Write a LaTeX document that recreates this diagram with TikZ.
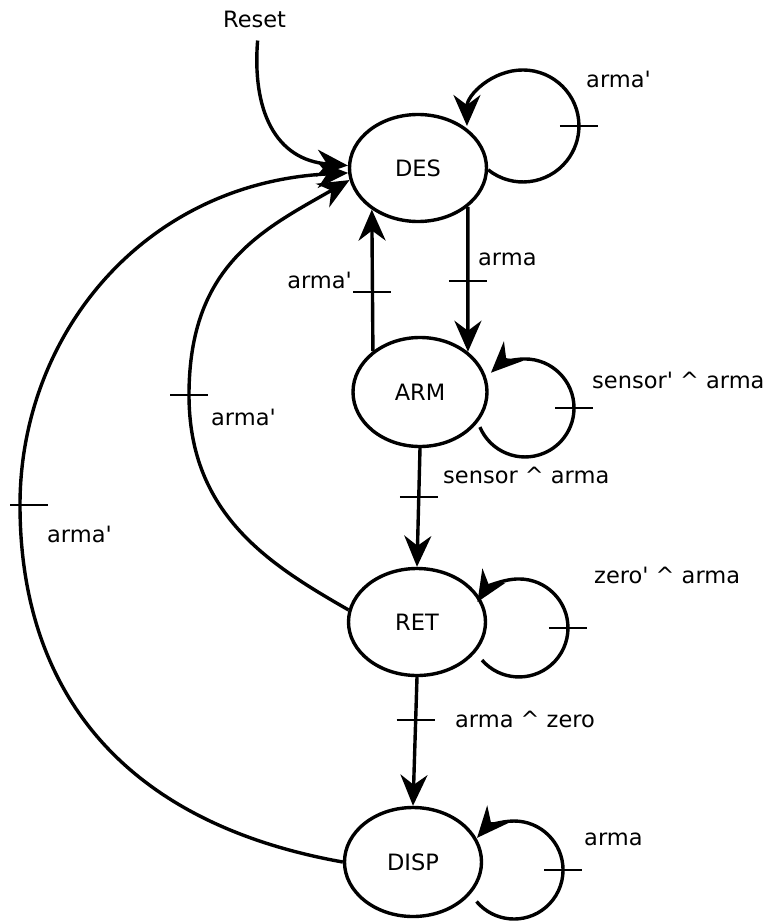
\documentclass[tikz,border=0pt]{standalone}
\usepackage{fontspec}
\setmainfont{DejaVu Sans}
\usetikzlibrary{arrows.meta,calc,shapes.geometric}
\begin{document}
\begin{tikzpicture}[x=1pt,y=1pt,
  font=\fontsize{22.5}{27}\selectfont,
  state/.style={draw, ellipse, line width=3.4pt, minimum width=137pt,
                minimum height=107pt, inner sep=0pt},
  edge/.style={line width=3.4pt, -{Stealth[length=31pt,width=27pt,inset=10pt]}},
  tickln/.style={line width=2.2pt},
  lbl/.style={inner sep=0pt, anchor=base west},
  lblr/.style={inner sep=0pt, anchor=base east},
]
\useasboundingbox (0,0) rectangle (776,-923);

% states
\node[state] (DES)  at (418,-168) {DES};
\node[state, minimum width=134pt, minimum height=109pt] (ARM) at (420,-392) {ARM};
\node[state] (RET)  at (417,-622) {RET};
\node[state, minimum height=109pt] (DISP) at (413,-862) {DISP};

% initial transition
\node[lbl] (reset) at (223,-28) {Reset};
\draw[edge] ([xshift=3pt,yshift=-12pt]reset.south)
  .. controls (252,-110) and (275,-160) .. (DES.178);

% forward chain
\draw[edge] (DES.-38.5) -- coordinate[pos=.51] (t1) (ARM.40);
\draw[edge] (ARM.139) -- coordinate[pos=.42] (t2) (DES.-138);
\draw[edge] (ARM.south) -- coordinate[pos=.41] (t3) (RET.north);
\draw[edge] (RET.south) -- coordinate[pos=.33] (t4) (DISP.north);

% returns to DES
\draw[edge] (RET.170) .. controls +(-78,44.8) and (189,-515) .. (189,-395)
  coordinate (t5)
  .. controls (189,-265) and (262.9,-229.6) .. (DES.190);
\draw[edge] (DISP.west) .. controls +(-226.3,40.3) and (20,-685) .. (20,-505)
  coordinate (t6)
  .. controls (20,-335) and (143.4,-183.1) .. (DES.184);

% self loops
\draw[edge] ([shift={(70.1,-1.8)}]DES.center)
  arc[start angle=-128.5,end angle=0,radius=56] coordinate (t7)
  arc[start angle=0,end angle=180,radius=56];
\draw[edge] ([shift={(59.9,-35.1)}]ARM.center)
  arc[start angle=-157,end angle=0,radius=49] coordinate (t8)
  arc[start angle=0,end angle=134,radius=49];
\draw[edge] ([shift={(65,-38.1)}]RET.center)
  arc[start angle=-139,end angle=0,radius=49] coordinate (t9)
  arc[start angle=0,end angle=148,radius=49];
\draw[edge] ([shift={(63.5,-39.5)}]DISP.center)
  arc[start angle=-140,end angle=0,radius=49] coordinate (t10)
  arc[start angle=0,end angle=139,radius=49];

% transition marks
\foreach \t in {t1,t2,t3,t4,t5,t7,t8,t9,t10}
  \draw[tickln] ([xshift=-19pt]\t) -- ([xshift=19pt]\t);
\draw[tickln] ([xshift=-10pt]t6) -- ([xshift=28pt]t6);

% transition labels
\node[lbl]  (l1)  at (478,-265) {arma};
\node[lblr] (l2)  at (352,-288) {arma\textquotesingle};
\node[lbl]  (l3)  at (443,-483) {sensor \textasciicircum{} arma};
\node[lbl]  (l4)  at (455,-727) {arma \textasciicircum{} zero};
\node[lbl]  (l5)  at (211,-425) {arma\textquotesingle};
\node[lbl]  (l6)  at (47,-542)  {arma\textquotesingle};
\node[lbl]  (l7)  at (586,-88)  {arma\textquotesingle};
\node[lbl]  (l8)  at (592,-388) {sensor\textquotesingle{} \textasciicircum{} arma};
\node[lbl]  (l9)  at (594,-583) {zero\textquotesingle{} \textasciicircum{} arma};
\node[lbl]  (l10) at (584,-845) {arma};
\end{tikzpicture}
\end{document}
